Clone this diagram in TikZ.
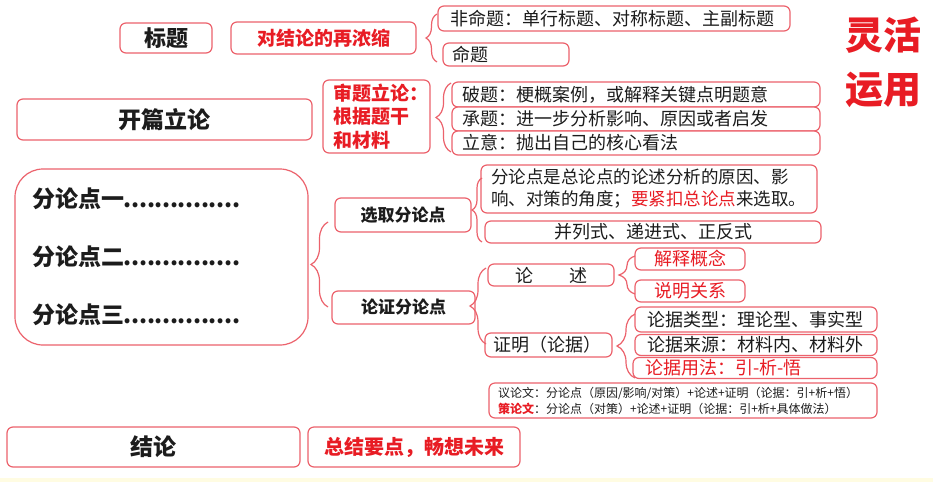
\documentclass[tikz,border=0pt]{standalone}
\usepackage{fontspec}
\setmainfont{Noto Sans CJK SC}
\usetikzlibrary{decorations.pathreplacing}
\definecolor{bd}{RGB}{236,98,108}
\definecolor{rt}{RGB}{232,28,36}
\definecolor{txt}{RGB}{28,28,28}
\definecolor{strip}{RGB}{255,252,226}
\newcommand\dts{\hbox to 116pt{\xleaders\hbox to 7.73pt{\hss.\hss}\hfil}}
\begin{document}
\begin{tikzpicture}[x=1pt,y=-1pt,
  box/.style={draw=bd, line width=1.2pt, rounded corners=6pt, fill=white, inner ysep=0pt, inner xsep=0pt, text=txt},
  f18/.style={font=\fontsize{18pt}{22pt}\selectfont},
  red/.style={text=rt},
  brc/.style={draw=bd, line width=1.2pt, decorate, decoration={brace, amplitude=#1}},
]
\useasboundingbox (0,0) rectangle (933,482);
\fill[white] (0,0) rectangle (933,482);
\fill[strip] (0,478) rectangle (933,482);

% row 1
\node[box, minimum width=92pt, minimum height=30pt, font=\bfseries\fontsize{22pt}{26pt}\selectfont] (title) at (166,38) {标题};
\node[box, red, minimum width=185pt, minimum height=32pt, font=\bfseries\fontsize{19pt}{23pt}\selectfont] (concise) at (323.5,38) {\textcolor{rt}{对结论的再浓缩}};
\node[box, f18, inner xsep=12pt, text width=328pt, align=left, minimum height=25pt] (feiming) at (614,18.5) {非命题：单行标题、对称标题、主副标题};
\node[box, f18, inner xsep=9pt, text width=108pt, align=left, minimum height=23pt] (ming) at (506,54.5) {命题};
\coordinate (b1b) at (437,62);
\coordinate (b1t) at (437,14);
\draw[brc=11pt] (b1b) -- (b1t);

\node[text=rt, align=center, font=\bfseries\fontsize{38pt}{54pt}\selectfont] (lhyy) at (883,62) {灵活\\运用};

% row 2
\node[box, minimum width=295pt, minimum height=41pt, font=\bfseries\fontsize{23pt}{27pt}\selectfont] (kaipian) at (164.5,119.5) {开篇立论};
\node[box, inner xsep=10pt, text width=87pt, align=left, minimum height=73pt, font=\bfseries\fontsize{19pt}{23.5pt}\selectfont, text=rt] (shenti) at (376.5,116.5) {审题立论：\\根据题干\\和材料};
\node[box, f18, inner xsep=10pt, text width=348pt, align=left, minimum height=25pt] (poti) at (636,94.5) {破题：梗概案例，或解释关键点明题意};
\node[box, f18, inner xsep=10pt, text width=348pt, align=left, minimum height=24pt] (chengti) at (636,119) {承题：进一步分析影响、原因或者启发};
\node[box, f18, inner xsep=10pt, text width=348pt, align=left, minimum height=24pt] (liyi) at (636,143) {立意：抛出自己的核心看法};
\coordinate (b2b) at (451,152);
\coordinate (b2t) at (451,83);
\draw[brc=15pt] (b2b) -- (b2t);

% row 3
\node[box, rounded corners=28pt, inner xsep=17pt, text width=259pt, align=left, minimum height=176pt, font=\bfseries\fontsize{23pt}{58pt}\selectfont] (fen) at (161.5,257) {分论点一\dts\\分论点二\dts\\分论点三\dts};
\node[box, minimum width=136pt, minimum height=34pt, font=\bfseries\fontsize{17pt}{21pt}\selectfont] (xuanqu) at (403,215) {选取分论点};
\node[box, minimum width=143pt, minimum height=33pt, font=\bfseries\fontsize{17pt}{21pt}\selectfont] (lunzheng) at (403.5,307.5) {论证分论点};
\coordinate (b3b) at (328,307);
\coordinate (b3t) at (328,222);
\draw[brc=17pt] (b3b) -- (b3t);

\node[box, inner xsep=10pt, text width=316pt, align=left, minimum height=48pt, font=\fontsize{17.5pt}{22pt}\selectfont] (shi) at (649,189) {分论点是总论点的论述分析的原因、影\\响、对策的角度；\textcolor{rt}{要紧扣总论点}来选取。};
\node[box, f18, minimum width=336pt, minimum height=22pt] (binglie) at (653,232) {并列式、递进式、正反式};
\coordinate (b4b) at (482,242);
\coordinate (b4t) at (482,178);
\draw[brc=10pt] (b4b) -- (b4t);

\node[box, f18, minimum width=126pt, minimum height=22pt] (lunshu) at (551,275) {论\hspace{2em}述};
\node[box, f18, inner xsep=8pt, text width=111pt, align=left, minimum height=24pt] (zhengming) at (548.5,345) {证明（论据）};
\coordinate (b5b) at (486,344);
\coordinate (b5t) at (486,268);
\draw[brc=16pt] (b5b) -- (b5t);

\node[box, f18, text=rt, minimum width=110pt, minimum height=22pt] (jieshi) at (690,259) {解释概念};
\node[box, f18, text=rt, minimum width=110pt, minimum height=22pt] (shuoming) at (690,291) {说明关系};
\coordinate (b6b) at (635,294);
\coordinate (b6t) at (635,256);
\draw[brc=16pt] (b6b) -- (b6t);

\node[box, f18, inner xsep=12pt, text width=218pt, align=left, minimum height=25pt] (leixing) at (756,319.5) {论据类型：理论型、事实型};
\node[box, f18, inner xsep=12pt, text width=218pt, align=left, minimum height=21pt] (laiyuan) at (756,345) {论据来源：材料内、材料外};
\node[box, f18, text=rt, inner xsep=12pt, text width=220pt, align=left, minimum height=21pt] (yongfa) at (755,368) {论据用法：引-析-悟};
\coordinate (b7b) at (635,378);
\coordinate (b7t) at (635,314);
\draw[brc=18pt] (b7b) -- (b7t);

\node[box, inner xsep=9pt, text width=370pt, align=left, minimum height=35pt, font=\fontsize{12pt}{16pt}\selectfont] (yilun) at (683,400.5) {议论文：分论点（原因/影响/对策）+论述+证明（论据：引+析+悟）\\\textcolor{rt}{\bfseries 策论文}：分论点（对策）+论述+证明（论据：引+析+具体做法）};

% row 4
\node[box, minimum width=293pt, minimum height=40pt, font=\bfseries\fontsize{23pt}{27pt}\selectfont] (jielun) at (153.5,447) {结论};
\node[box, text=rt, minimum width=212pt, minimum height=40pt, font=\bfseries\fontsize{20pt}{24pt}\selectfont] (zongjie) at (414,447) {总结要点，畅想未来};
\end{tikzpicture}
\end{document}
